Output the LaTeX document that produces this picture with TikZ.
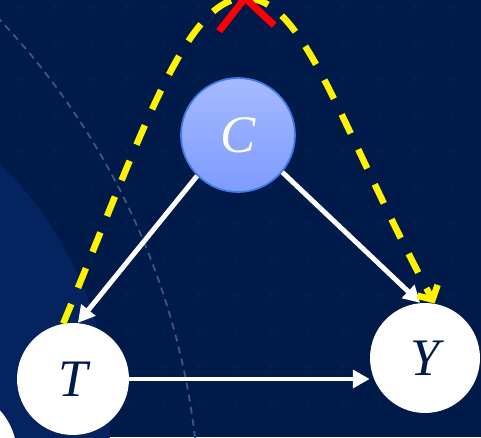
\documentclass[tikz,border=0pt]{standalone}
\usepackage{fontspec}
\newfontfamily\varfont{Liberation Serif}
\usepackage{tikz}
\usetikzlibrary{arrows.meta}

\definecolor{bgnavy}{HTML}{001A4A}
\definecolor{cnodetop}{HTML}{A6BAFF}
\definecolor{cnodebot}{HTML}{7E9BFF}
\definecolor{cnodeline}{HTML}{3F7BE6}
\definecolor{ringblue}{HTML}{3A5A82}
\definecolor{swirlblue}{HTML}{05235F}
\definecolor{dotblue}{HTML}{061F53}

\begin{document}
\begin{tikzpicture}[x=0.02cm,y=0.02cm,
  varnode/.style={circle,fill=white,inner sep=0pt,text=bgnavy,font=\varfont\itshape\fontsize{30}{31}\selectfont},
  confnode/.style={circle,draw=cnodeline,line width=1pt,top color=cnodetop,bottom color=cnodebot,inner sep=0pt,minimum size=2.28cm,text=white,font=\varfont\itshape\fontsize{30}{31}\selectfont},
  edge/.style={white,line width=2.8pt,-{Triangle[length=9.5pt,width=10pt]}},
  backdoor/.style={yellow,line width=3.7pt,dash pattern=on 12pt off 10pt,-{Straight Barb[length=6pt,width=13pt]}},
  blocked/.style={red,line width=4pt}]
  \useasboundingbox (0,0) rectangle (481,437);
  \clip (0,0) rectangle (481,437);
  % backdrop
  \fill[bgnavy] (0,0) rectangle (481,437);
  \foreach \x in {19,55,...,480} \foreach \y in {34,70,...,430} \fill[dotblue] (\x,\y) circle (2);
  \fill[swirlblue] (-255,12) circle (365);
  \draw[ringblue,line width=1pt,dash pattern=on 4pt off 3pt] (-535,-87) circle (735);
  \fill[white] (-50,-18) circle (67);

  \node[confnode] (C) at (238,302) {C};
  \node[varnode,minimum size=2.24cm] (T) at (73,58) {T};
  \node[varnode,minimum size=2.2cm] (Y) at (425,79) {Y};
  \coordinate (apex) at (245,439);

  \draw[edge] (C.225) -- (T.85);
  \draw[edge] (C.-40) -- (Y.95);
  \draw[edge] (T.east) -- (T.east -| Y.west);
  \draw[backdoor] (T.100) .. controls (141,300) and (185,439) .. (apex) .. controls (305,439) and (340,310) .. (Y.80);
  \draw[blocked] (apex) ++(232:42) -- ++(52:84);
  \draw[blocked] (apex) ++(317:40) -- ++(137:80);
\end{tikzpicture}
\end{document}
